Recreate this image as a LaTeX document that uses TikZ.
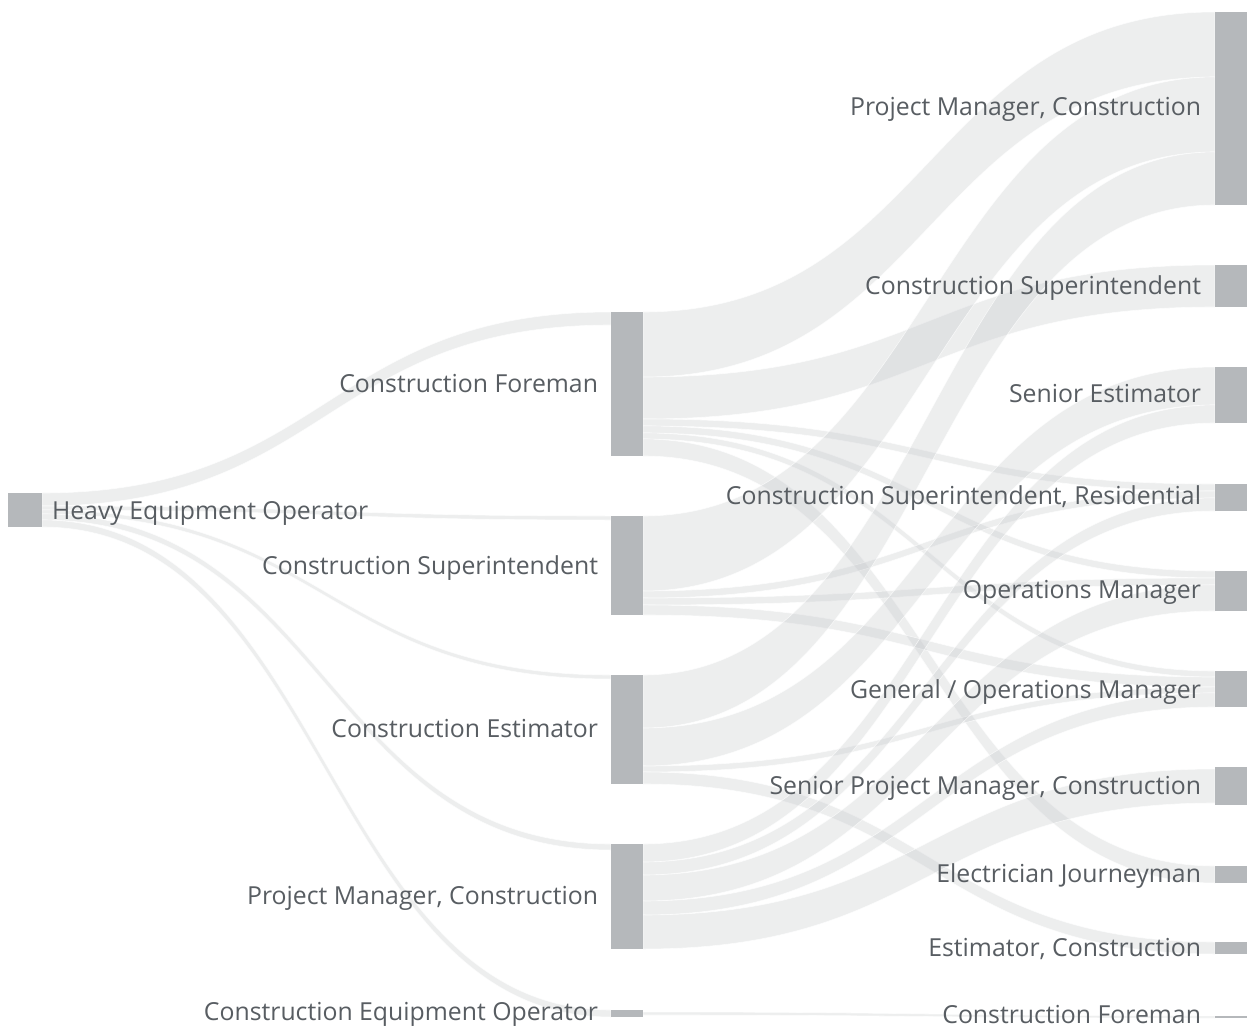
\documentclass[tikz,border=0pt]{standalone}
\usepackage{fontspec}
\setmainfont{Open Sans}
\usetikzlibrary{calc,backgrounds}
\definecolor{barc}{RGB}{181,184,187}
\definecolor{flowc}{RGB}{196,199,202}
\definecolor{txtc}{RGB}{88,93,98}
% band from bar #1 (offsets #2..#3 below its top) to bar #4 (offsets #5..#6 below its top)
\newcommand\band[6]{%
  \path[flow] let \p1=(#1.north east), \p2=(#4.north west), \p3=($(\p1)!0.5!(\p2)$) in
   (\x1,\y1-#2 pt) .. controls (\x3,\y1-#2 pt) and (\x3,\y2-#5 pt) .. (\x2,\y2-#5 pt)
   -- (\x2,\y2-#6 pt) .. controls (\x3,\y2-#6 pt) and (\x3,\y1-#3 pt) .. (\x1,\y1-#3 pt) -- cycle;}
\begin{document}
\begin{tikzpicture}[x=1pt,y=-1pt,
  bar/.style={fill=barc, draw=none, inner sep=0pt, outer sep=0pt, minimum width=32pt},
  flow/.style={fill=flowc, fill opacity=0.3, draw=white, draw opacity=0.7, line width=0.6pt},
  lbl/.style={text=txtc, font=\fontsize{24.8}{29}\selectfont, inner sep=0pt, outer sep=0pt, text height=17.6pt, text depth=0pt}]
\useasboundingbox (0,0) rectangle (1254,1027);
% column 0
\node[bar, minimum width=34pt, minimum height=34pt] (heo) at (25,510) {};
% column 1
\node[bar, minimum height=144pt] (cf)  at (627,384) {};
\node[bar, minimum height=99pt]  (cs)  at (627,565.5) {};
\node[bar, minimum height=109pt] (ce)  at (627,729.5) {};
\node[bar, minimum height=105pt] (pm)  at (627,896.5) {};
\node[bar, minimum height=7pt]   (ceo) at (627,1013.5) {};
% column 2
\node[bar, minimum height=193pt] (pm2)    at (1231,108.5) {};
\node[bar, minimum height=42pt]  (cs2)    at (1231,286) {};
\node[bar, minimum height=56pt]  (se)     at (1231,395) {};
\node[bar, minimum height=27pt]  (csr)    at (1231,497.5) {};
\node[bar, minimum height=40pt]  (opsm)   at (1231,591) {};
\node[bar, minimum height=36pt]  (genops) at (1231,689) {};
\node[bar, minimum height=38pt]  (srpm)   at (1231,786) {};
\node[bar, minimum height=17pt]  (ej)     at (1231,874.5) {};
\node[bar, minimum height=12pt]  (estc)   at (1231,948) {};
\node[bar, minimum height=2pt]   (cf2)    at (1231,1017) {};
% flows
\begin{scope}[on background layer]
\fill[white] (0,0) rectangle (1254,1027);
\band{heo}{0}{13}{cf}{0}{13}
\band{heo}{13}{17}{cs}{0}{4}
\band{heo}{17}{21}{ce}{0}{4}
\band{heo}{21}{27}{pm}{0}{6}
\band{heo}{27}{34}{ceo}{0}{7}
\band{cf}{0}{65}{pm2}{0}{65}
\band{cf}{65}{107}{cs2}{0}{42}
\band{cf}{107}{114}{csr}{0}{7}
\band{cf}{114}{121}{opsm}{0}{7}
\band{cf}{121}{127}{genops}{0}{6}
\band{cf}{127}{144}{ej}{0}{17}
\band{cs}{0}{75}{pm2}{65}{140}
\band{cs}{75}{82}{csr}{7}{14}
\band{cs}{82}{89}{opsm}{7}{14}
\band{cs}{89}{99}{genops}{6}{16}
\band{ce}{0}{53}{pm2}{140}{193}
\band{ce}{53}{91}{se}{0}{38}
\band{ce}{91}{97}{genops}{16}{22}
\band{ce}{97}{109}{estc}{0}{12}
\band{pm}{0}{18}{se}{38}{56}
\band{pm}{18}{31}{csr}{14}{27}
\band{pm}{31}{57}{opsm}{14}{40}
\band{pm}{57}{71}{genops}{22}{36}
\band{pm}{71}{105}{srpm}{2}{36}
\band{ceo}{2}{5}{cf2}{0}{2}
\end{scope}
% labels
\node[lbl, anchor=west] (lheo) at (52,511) {Heavy Equipment Operator};
\node[lbl, anchor=east] (lcf)  at (598,384) {Construction Foreman};
\node[lbl, anchor=east] (lcs)  at (598,566) {Construction Superintendent};
\node[lbl, anchor=east] (lce)  at (598,729) {Construction Estimator};
\node[lbl, anchor=east] (lpm)  at (598,896) {Project Manager, Construction};
\node[lbl, anchor=east] (lceo) at (598,1012) {Construction Equipment Operator};
\node[lbl, anchor=east] (lpm2)    at (1201,107) {Project Manager, Construction};
\node[lbl, anchor=east] (lcs2)    at (1201,286) {Construction Superintendent};
\node[lbl, anchor=east] (lse)     at (1201,394) {Senior Estimator};
\node[lbl, anchor=east] (lcsr)    at (1201,496) {Construction Superintendent, Residential};
\node[lbl, anchor=east] (lopsm)   at (1201,590) {Operations Manager};
\node[lbl, anchor=east] (lgenops) at (1201,690) {General / Operations Manager};
\node[lbl, anchor=east] (lsrpm)   at (1201,786) {Senior Project Manager, Construction};
\node[lbl, anchor=east] (lej)     at (1201,874) {Electrician Journeyman};
\node[lbl, anchor=east] (lestc)   at (1201,948) {Estimator, Construction};
\node[lbl, anchor=east] (lcf2)    at (1201,1015) {Construction Foreman};
\end{tikzpicture}
\end{document}
